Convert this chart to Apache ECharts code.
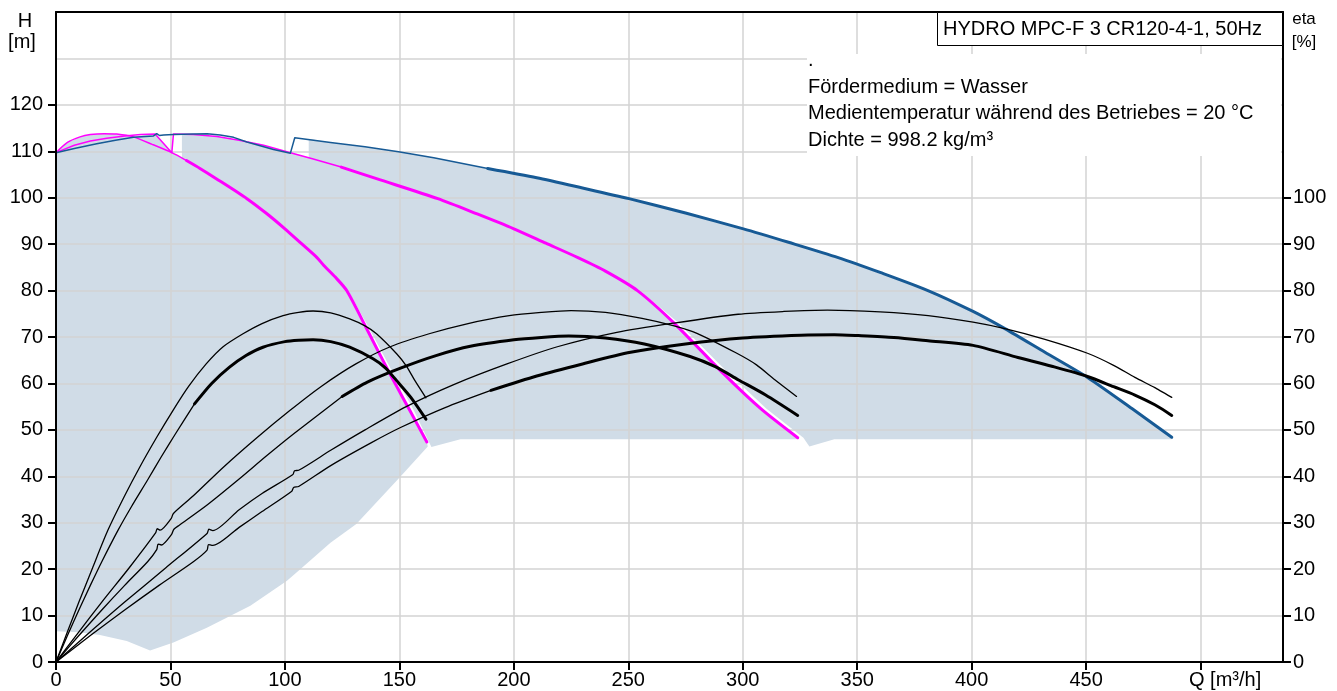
<!DOCTYPE html>
<html><head><meta charset="utf-8">
<script src="https://cdn.jsdelivr.net/npm/echarts@6/dist/echarts.min.js"></script>
<style>html,body{margin:0;padding:0;background:#fff}#c{width:1337px;height:691px}</style>
</head><body><div id="c"></div><script>
// ---------- tick labels ----------
const X_LABELS = [0, 50, 100, 150, 200, 250, 300, 350, 400, 450];
const H_LABELS = [0, 10, 20, 30, 40, 50, 60, 70, 80, 90, 100, 110, 120];
const ETA_LABELS = [0, 10, 20, 30, 40, 50, 60, 70, 80, 90, 100];

// ---------- head curves [Q m3/h, H m] ----------
const pump1Thin = [[0,109.7],[5,111.9],[10.5,113.1],[15,113.6],[21,113.8],[26.5,113.7],[33.8,113.1],[42,111.5],[50.6,109.7],[57,108]];
const pump1Thick = [[57,108],[62.9,106.3],[70,104.1],[83.4,99.8],[92,96.6],[100,93.3],[107,90.2],[114,87.1],[117,85.4],[122,82.9],[127,80],[136,71.5],[145.8,62.1],[154,54.7],[162,47.4]];
const pump2Thin = [[0,109.7],[8,111.3],[15,112.2],[22.2,112.8],[30,113.3],[37,113.6],[43.3,113.7],[50.6,109.7],[51.3,113.7],[60,113.6],[70.3,113.2],[80,112.4],[90.7,111.3],[102.4,109.7],[112,108.4],[124.6,106.6]];
const pump2Thick = [[124.6,106.6],[140,104.1],[166.8,99.8],[184,96.5],[200,93.3],[214,90.2],[228,87.1],[240,84.2],[254,80],[270,73],[291.6,62.1],[308,54.5],[324,48.3]];
const maxThin = [[0,109.7],[8,110.6],[17.8,111.6],[26,112.4],[33.8,113],[42.6,113.3],[44,113.8],[45.2,113.4],[47,113.5],[51.3,113.6],[60,113.7],[66,113.8],[71.7,113.5],[77.6,113],[83.4,112],[89.2,111.2],[95,110.4],[102.4,109.6],[104.3,112.9],[119.9,111.9],[135,111],[149.6,109.9],[165,108.6],[188.6,106.3]];
const maxThick = [[188.6,106.3],[210,104.3],[230,102.1],[250.3,99.8],[275,96.7],[300.3,93.3],[320,90.4],[341.7,87.1],[360,83.9],[380.9,80],[400.6,75.5],[414.5,71.8],[432,66.7],[450.6,61.3],[470,54.6],[487.4,48.4]];

// ---------- efficiency curves [Q m3/h, eta %] ----------
const eta1a = [[0,0],[5,6.5],[10,12.9],[16,20.3],[22.6,28.3],[30,35.8],[36.5,41.9],[44,48.4],[51,54.1],[58,59.4],[65.6,64.2],[73,67.9],[81.7,70.7],[90,72.9],[99.2,74.6],[106,75.3],[112.3,75.6],[120,75.2],[128.3,73.9],[135,72.4],[140,70.7],[148.8,66.4],[153,63.8],[156.8,60.6],[161.6,56.9]];
const eta1bThin = [[0,0],[5,5.7],[10,11.2],[15,16.5],[20,21.6],[27,28.3],[33,33.5],[40,39.2],[46,44.2],[52,49],[60.5,55.6]];
const eta1bThick = [[60.5,55.6],[68,60],[75.8,63.5],[83,66],[90.4,67.8],[100,69],[106,69.3],[112.3,69.4],[120,69],[128.3,67.8],[138.5,65.3],[144,63.3],[148.8,60.6],[155,57],[161.6,52.3]];
const eta2a = [[0,0],[10,6.5],[20,12.9],[32,20.3],[43.5,27.8],[44.2,28.7],[45.5,28.4],[50.3,30.9],[51.3,32],[60,35.8],[73,41.9],[88,48.4],[102,54.1],[116,59.4],[131,64.2],[146,67.9],[163,70.7],[180,72.9],[198,74.6],[212,75.3],[225,75.7],[240,75.3],[256,74],[270,72.4],[280,70.8],[297,66.6],[306,64],[314,60.8],[323.5,57.2]];
const eta2bThin = [[0,0],[10,5.7],[20,11.2],[30,16.5],[40,21.6],[44,24.2],[44.6,25.4],[46,25.2],[50.5,27.5],[51.5,28.6],[54,29.5],[66,33.8],[80,39.4],[92,44.4],[104,49.2],[125,57.2]];
const eta2bThick = [[125,57.2],[136,60.3],[150.5,63.3],[166,66],[181,68],[200,69.4],[212,69.9],[224,70.2],[240,69.8],[257,68.5],[277,65.8],[288,63.6],[298,60.8],[310,57.5],[324,53.1]];
const eta3a = [[0,0],[15,6.5],[30,12.9],[48,20.3],[66,27.7],[66.8,28.6],[68.5,28.3],[80,32.8],[90,36.3],[103.5,40.4],[104.2,41.2],[106,41.3],[120,45.6],[135,50],[153,55],[174,59.8],[197,64.2],[219,67.9],[245,71],[270,73],[298,74.9],[318,75.5],[337,75.8],[360,75.4],[381,74.6],[400.6,73.2],[414.5,71.8],[432,69.5],[450.6,66.5],[462,63.9],[471.3,61.3],[480,59.1],[487.4,57]];
const eta3bThin = [[0,0],[15,5.7],[30,11.2],[45,16.5],[60,21.6],[66,24.1],[66.6,25.3],[68.5,25.1],[80,29],[90,32.4],[103,36.8],[103.8,37.6],[106,37.8],[120,42.3],[138,47.3],[150.5,50.5],[170,54.8],[190,58.5]];
const eta3bThick = [[190,58.5],[210,61.6],[230,64.2],[251,66.7],[275,68.5],[300,69.8],[325.5,70.4],[340,70.5],[350.6,70.3],[366,69.9],[380.9,69.2],[400.6,68.2],[420.2,65.6],[435,63.7],[450.6,61.5],[462,59.3],[471.3,57.5],[480,55.4],[487.4,53.1]];

// ---------- operating area outlines [Q, H] ----------
const area1 = [[0,109.7],[5,111.9],[10.5,113.1],[15,113.6],[21,113.8],[26.5,113.7],[33.8,113.2],[43.3,113.7],[50.6,109.7],[57,108],[62.9,106.3],[70,104.1],[83.4,99.8],[92,96.6],[100,93.3],[107,90.2],[114,87.1],[117,85.4],[122,82.9],[127,80],[136,71.5],[145.8,62.1],[154,54.7],[162,47.4],[162.4,46.4],[150.2,39.8],[131.2,29.7],[119.9,25.7],[106.7,20],[100.9,17.5],[84.9,12.1],[65.9,7.4],[51.3,4.2],[41.1,2.5],[30.9,4.5],[19.2,5.8],[10,6.4],[0,6.6]];
const area2 = [[55,113.6],[60,113.6],[70.3,113.2],[80,112.4],[90.7,111.3],[102.4,109.7],[112,108.4],[124.6,106.6],[140,104.1],[166.8,99.8],[184,96.5],[200,93.3],[214,90.2],[228,87.1],[240,84.2],[254,80],[270,73],[291.6,62.1],[308,54.5],[324,48.3],[324,48],[176.7,48],[164,46.3],[155.8,54.7],[147.4,62.1],[137.2,71.5],[127.6,80],[122,82.9],[114,87.1],[100,93.3],[83.4,99.8],[62.9,106.3],[55,108.5]];
const area3 = [[110.4,112.7],[119.9,111.9],[135,111],[149.6,109.9],[165,108.6],[188.6,106.3],[210,104.3],[230,102.1],[250.3,99.8],[275,96.7],[300.3,93.3],[320,90.4],[341.7,87.1],[360,83.9],[380.9,80],[400.6,75.5],[414.5,71.8],[432,66.7],[450.6,61.3],[470,54.6],[487.4,48.4],[487.4,48],[340,48],[329.1,46.4],[326.5,48.3],[310.5,54.5],[294,62.1],[272,73],[255,80],[240,84.2],[228,87.1],[200,93.3],[166.8,99.8],[140,104.1],[124.6,106.6],[112,108.4],[110.4,108.6]];

// ---------- texts ----------
const TITLE = 'HYDRO MPC-F 3 CR120-4-1, 50Hz';
const INFO = ['.', 'Fördermedium = Wasser', 'Medientemperatur während des Betriebes = 20 °C', 'Dichte = 998.2 kg/m³'];

const FONT = '"Liberation Sans", Arial, sans-serif';
const FILL_C = '#d0dce7';
const GRID_C = '#d3d3d3';
const BLUE = '#175a95';
const MAG = '#ff00ff';

function line(data, color, width, z, smooth) {
  return { type: 'line', data: data, showSymbol: false, symbol: 'none',
    smooth: smooth === undefined ? 0.25 : smooth, silent: true,
    xAxisIndex: 0, yAxisIndex: 0, z: z || 3, lineStyle: { color: color, width: width, cap: 'round', join: 'round' } };
}
function poly(pts) {
  return { type: 'custom', data: [[0, 0]], silent: true, z: -1, clip: true, xAxisIndex: 0, yAxisIndex: 0,
    renderItem: function (params, api) {
      return { type: 'polygon', shape: { points: pts.map(function (p) { return api.coord(p); }) }, style: { fill: FILL_C } };
    } };
}

const chart = echarts.init(document.getElementById('c'), null, { renderer: 'canvas' });
const labelStyle = { color: '#000', fontSize: 20, fontFamily: FONT };
const graphic = [
  { type: 'rect', z: 50, shape: { x: 807, y: 54, width: 474, height: 102 }, style: { fill: '#fff' } },
  { type: 'rect', z: 51, shape: { x: 937.5, y: 12.5, width: 345, height: 33 }, style: { fill: '#fff', stroke: '#000', lineWidth: 1 } },
  { type: 'text', z: 52, style: { text: TITLE, x: 943, y: 29, font: '20px ' + FONT, fill: '#000', textVerticalAlign: 'middle' } },
  { type: 'text', z: 52, style: { text: 'H', x: 25, y: 21, font: '20px ' + FONT, fill: '#000', textAlign: 'center', textVerticalAlign: 'middle' } },
  { type: 'text', z: 52, style: { text: '[m]', x: 22, y: 42.5, font: '20px ' + FONT, fill: '#000', textAlign: 'center', textVerticalAlign: 'middle' } },
  { type: 'text', z: 52, style: { text: 'eta', x: 1304, y: 19, font: '17px ' + FONT, fill: '#000', textAlign: 'center', textVerticalAlign: 'middle' } },
  { type: 'text', z: 52, style: { text: '[%]', x: 1304, y: 42, font: '17px ' + FONT, fill: '#000', textAlign: 'center', textVerticalAlign: 'middle' } },
  { type: 'text', z: 52, style: { text: 'Q [m³/h]', x: 1189, y: 680, font: '20px ' + FONT, fill: '#000', textVerticalAlign: 'middle' } }
];
const infoY = [60, 87, 113, 140];
INFO.forEach(function (t, i) {
  graphic.push({ type: 'text', z: 52, style: { text: t, x: 808, y: infoY[i], font: '20px ' + FONT, fill: '#000', textVerticalAlign: 'middle' } });
});

chart.setOption({
  animation: false,
  backgroundColor: '#fff',
  grid: { left: 56, right: 54, top: 12, bottom: 29, containLabel: false, show: false },
  xAxis: [{
    type: 'value', min: 0, max: 536, interval: 50, z: 0,
    axisLine: { show: true, onZero: false, lineStyle: { color: '#000', width: 2 } },
    axisTick: { show: true, length: 8, lineStyle: { color: '#000', width: 2 } },
    axisLabel: Object.assign({ margin: 8, showMaxLabel: false, formatter: function (v) { return X_LABELS.indexOf(v) >= 0 ? String(v) : ''; } }, labelStyle),
    splitLine: { show: true, lineStyle: { color: GRID_C, width: 1.5 } }
  }, {
    type: 'value', min: 0, max: 536, position: 'top', z: 6,
    axisLine: { show: true, onZero: false, lineStyle: { color: '#000', width: 2 } },
    axisTick: { show: false }, axisLabel: { show: false }, splitLine: { show: false }
  }],
  yAxis: [
    { type: 'value', min: 0, max: 140, interval: 10, position: 'left', z: 0,
      axisLine: { show: false }, axisTick: { show: false }, axisLabel: { show: false },
      splitLine: { show: true, lineStyle: { color: GRID_C, width: 1.5 } } },
    { type: 'value', min: 0, max: 140, interval: 10, position: 'left', z: 6,
      axisLine: { show: true, onZero: false, lineStyle: { color: '#000', width: 2 } },
      axisTick: { show: true, length: 8, customValues: H_LABELS, lineStyle: { color: '#000', width: 2 } },
      axisLabel: Object.assign({ margin: 13, customValues: H_LABELS, formatter: function (v) { return H_LABELS.indexOf(v) >= 0 ? String(v) : ''; } }, labelStyle),
      splitLine: { show: false } },
    { type: 'value', min: 0, max: 140, interval: 10, position: 'right', z: 6,
      axisLine: { show: true, onZero: false, lineStyle: { color: '#000', width: 2 } },
      axisTick: { show: true, length: 8, customValues: ETA_LABELS, lineStyle: { color: '#000', width: 2 } },
      axisLabel: Object.assign({ margin: 10, customValues: ETA_LABELS, formatter: function (v) { return ETA_LABELS.indexOf(v) >= 0 ? String(v) : ''; } }, labelStyle),
      splitLine: { show: false } }
  ],
  series: [
    poly(area1), poly(area2), poly(area3),
    line(pump1Thin, MAG, 1.5, 3), line(pump1Thick, MAG, 3, 3),
    line(pump2Thin, MAG, 1.5, 3, false), line(pump2Thick, MAG, 3, 3),
    line(maxThin, BLUE, 1.5, 3, false), line(maxThick, BLUE, 3, 3),
    line(eta1a, '#000', 1.3, 4), line(eta1bThin, '#000', 1.3, 4), line(eta1bThick, '#000', 3, 4),
    line(eta2a, '#000', 1.3, 4), line(eta2bThin, '#000', 1.3, 4), line(eta2bThick, '#000', 3, 4),
    line(eta3a, '#000', 1.3, 4), line(eta3bThin, '#000', 1.3, 4), line(eta3bThick, '#000', 3, 4)
  ],
  graphic: graphic
});
</script></body></html>
